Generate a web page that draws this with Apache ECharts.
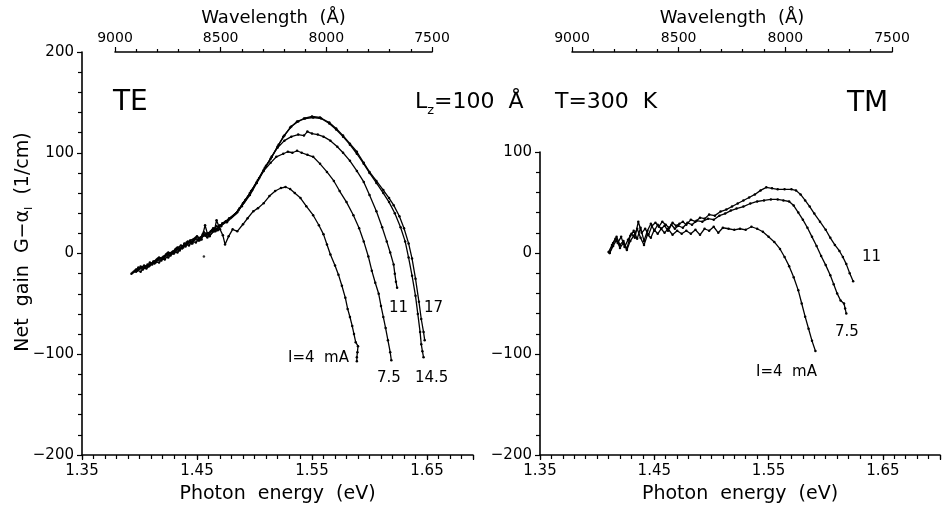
<!DOCTYPE html>
<html><head><meta charset="utf-8">
<script src="https://cdn.jsdelivr.net/npm/echarts@6/dist/echarts.min.js"></script>
<style>html,body{margin:0;padding:0;background:#fff}#c{width:943px;height:509px}</style>
</head><body><div id="c"></div>
<script>
// ---- tick labels ----
const energyTicks = [1.35, 1.45, 1.55, 1.65];
const wavelengthTicks = [9000, 8500, 8000, 7500];
const teGainTicks = [-200, -100, 0, 100, 200];
const tmGainTicks = [-200, -100, 0, 100];

// ---- TE data: [photon energy (eV), net gain (1/cm)] ----
const teI17 = [[1.393,-20],[1.397,-16],[1.401,-18],[1.405,-13],[1.409,-12],[1.413,-8],[1.417,-9],[1.421,-3],[1.425,-4],[1.429,2],[1.433,1],[1.437,7],[1.441,9],[1.445,12],[1.449,11],[1.453,16],[1.457,18],[1.461,17],[1.465,24],[1.469,26],[1.473,30],[1.477,33],[1.481,37],[1.485,41],[1.490,50],[1.496,60],[1.502,71],[1.508,83],[1.514,94],[1.520,106],[1.525,116],[1.531,125],[1.537,131],[1.543,134],[1.550,136],[1.557,135],[1.565,130],[1.571,124],[1.577,117],[1.583,109],[1.589,101],[1.595,90],[1.600,81],[1.606,72],[1.612,63],[1.617,55],[1.621,48],[1.626,37],[1.630,25],[1.634,10],[1.637,-5],[1.640,-25],[1.643,-48],[1.645,-65],[1.647,-78],[1.648,-86]];
const teI145 = [[1.394,-19],[1.398,-17],[1.402,-14],[1.406,-15],[1.410,-10],[1.414,-9],[1.418,-5],[1.422,-6],[1.426,0],[1.430,0],[1.434,5],[1.438,6],[1.442,12],[1.446,10],[1.450,17],[1.454,14],[1.457,28],[1.459,20],[1.462,22],[1.466,22],[1.470,28],[1.474,31],[1.478,35],[1.482,38],[1.486,43],[1.491,51],[1.497,62],[1.503,73],[1.509,85],[1.515,96],[1.521,108],[1.526,117],[1.532,126],[1.538,131],[1.544,134],[1.551,135],[1.558,134],[1.565,129],[1.571,123],[1.577,116],[1.583,108],[1.589,99],[1.595,89],[1.600,80],[1.606,70],[1.612,60],[1.617,51],[1.622,40],[1.627,26],[1.631,12],[1.634,-4],[1.637,-22],[1.640,-42],[1.642,-60],[1.644,-78],[1.645,-90],[1.646,-97],[1.647,-103]];
const teI11 = [[1.395,-18],[1.399,-14],[1.403,-16],[1.407,-11],[1.411,-11],[1.415,-6],[1.419,-7],[1.423,-1],[1.427,-2],[1.431,4],[1.435,3],[1.439,10],[1.443,8],[1.447,14],[1.451,13],[1.455,19],[1.459,16],[1.463,23],[1.467,27],[1.471,27],[1.475,32],[1.479,35],[1.483,39],[1.487,45],[1.492,53],[1.498,63],[1.504,75],[1.510,87],[1.515,96],[1.520,105],[1.526,112],[1.532,116],[1.538,118],[1.543,117],[1.546,121],[1.550,119],[1.555,118],[1.560,116],[1.566,112],[1.572,106],[1.577,100],[1.583,92],[1.589,82],[1.595,71],[1.600,58],[1.606,42],[1.611,26],[1.615,12],[1.618,1],[1.621,-11],[1.622,-20],[1.623,-28],[1.624,-34]];
const teI75 = [[1.396,-17],[1.400,-15],[1.404,-12],[1.408,-13],[1.412,-8],[1.416,-5],[1.420,-4],[1.424,0],[1.428,1],[1.432,5],[1.436,8],[1.440,7],[1.444,13],[1.448,15],[1.452,13],[1.456,21],[1.460,19],[1.464,25],[1.468,23],[1.472,30],[1.476,31],[1.480,36],[1.484,40],[1.489,47],[1.496,58],[1.502,70],[1.508,82],[1.514,90],[1.519,96],[1.525,99],[1.529,101],[1.533,100],[1.537,102],[1.541,100],[1.546,98],[1.551,96],[1.557,89],[1.563,81],[1.569,72],[1.574,62],[1.580,51],[1.586,38],[1.591,25],[1.595,12],[1.599,-3],[1.602,-17],[1.605,-29],[1.608,-40],[1.610,-52],[1.612,-63],[1.614,-74],[1.616,-86],[1.618,-98],[1.619,-106]];
const teI4 = [[1.397,-18],[1.401,-13],[1.405,-14],[1.409,-9],[1.413,-10],[1.417,-4],[1.421,-5],[1.425,1],[1.429,0],[1.433,6],[1.437,5],[1.441,11],[1.445,10],[1.449,16],[1.453,14],[1.457,19],[1.461,18],[1.465,22],[1.467,33],[1.470,24],[1.4725,18],[1.4744,9],[1.4775,17],[1.481,24],[1.485,22],[1.490,29],[1.494,35],[1.499,42],[1.503,45],[1.508,50],[1.513,57],[1.518,62],[1.523,65],[1.527,66],[1.531,64],[1.535,60],[1.540,55],[1.545,47],[1.551,38],[1.556,28],[1.560,19],[1.563,9],[1.566,-1],[1.570,-12],[1.573,-21],[1.576,-32],[1.579,-44],[1.581,-55],[1.583,-63],[1.585,-72],[1.5865,-80],[1.588,-88],[1.590,-92],[1.5895,-98],[1.589,-103],[1.589,-107]];
const teStray = [[1.456,-3]];

// ---- TM data ----
const tmI11 = [[1.410,1],[1.413,8],[1.416,14],[1.418,10],[1.421,16],[1.424,6],[1.427,13],[1.430,19],[1.433,15],[1.436,31],[1.439,20],[1.442,24],[1.445,18],[1.448,27],[1.451,30],[1.454,26],[1.457,31],[1.460,28],[1.463,25],[1.466,30],[1.469,27],[1.472,29],[1.475,31],[1.478,28],[1.482,33],[1.486,31],[1.490,35],[1.494,34],[1.498,38],[1.503,37],[1.508,41],[1.513,43],[1.518,46],[1.523,49],[1.528,52],[1.533,55],[1.538,58],[1.543,62],[1.548,65],[1.553,64],[1.558,63],[1.564,63],[1.570,63],[1.574,62],[1.578,58],[1.582,52],[1.586,46],[1.590,39],[1.595,31],[1.600,23],[1.604,15],[1.608,8],[1.612,2],[1.615,-4],[1.618,-11],[1.621,-20],[1.624,-28]];
const tmI75 = [[1.411,0],[1.414,10],[1.417,16],[1.420,8],[1.423,12],[1.426,4],[1.429,17],[1.432,22],[1.435,14],[1.438,25],[1.441,12],[1.444,22],[1.447,29],[1.450,22],[1.453,28],[1.456,24],[1.459,27],[1.462,22],[1.465,28],[1.468,24],[1.471,27],[1.475,25],[1.479,30],[1.483,28],[1.487,32],[1.492,31],[1.497,34],[1.502,33],[1.507,37],[1.512,39],[1.517,42],[1.522,44],[1.528,46],[1.534,49],[1.540,51],[1.546,52],[1.552,53],[1.558,53],[1.563,52],[1.568,51],[1.572,47],[1.576,40],[1.580,33],[1.584,25],[1.588,16],[1.592,7],[1.596,-3],[1.600,-12],[1.604,-22],[1.607,-31],[1.610,-40],[1.613,-47],[1.616,-50],[1.617,-55],[1.618,-60]];
const tmI4 = [[1.411,0],[1.414,7],[1.417,13],[1.420,5],[1.423,10],[1.426,3],[1.429,12],[1.432,17],[1.435,24],[1.438,15],[1.441,8],[1.444,18],[1.447,15],[1.450,23],[1.453,19],[1.456,24],[1.459,20],[1.462,24],[1.466,18],[1.470,22],[1.474,19],[1.478,22],[1.482,19],[1.486,23],[1.490,18],[1.494,24],[1.498,22],[1.502,26],[1.506,20],[1.510,25],[1.515,24],[1.520,23],[1.525,24],[1.530,23],[1.535,26],[1.540,24],[1.545,21],[1.550,16],[1.555,11],[1.560,4],[1.564,-4],[1.568,-13],[1.572,-24],[1.576,-37],[1.579,-50],[1.582,-63],[1.585,-75],[1.588,-87],[1.591,-97]];

const FONT = 'DejaVu Sans';
const inList = (list, v) => list.some(t => Math.abs(t - v) < 1e-6);
const axisLineStyle = { color: '#000', width: 1.6 };

function energyAxis(grid, max) {
  return {
    type: 'value', gridIndex: grid, position: 'bottom', min: 1.35, max: max, interval: 0.1,
    axisLine: { show: true, lineStyle: axisLineStyle, onZero: false },
    axisTick: { show: true, length: 5, lineStyle: { color: '#000', width: 1.2 } },
    axisLabel: { show: true, color: '#000', fontFamily: FONT, fontSize: 15, margin: 9,
      formatter: v => inList(energyTicks, v) ? v.toFixed(2) : '' },
    splitLine: { show: false },
    name: 'Photon  energy  (eV)', nameLocation: 'middle', nameGap: 30,
    nameTextStyle: { color: '#000', fontFamily: FONT, fontSize: 19 }
  };
}
function minorEnergyAxis(grid, max) {
  return {
    type: 'value', gridIndex: grid, position: 'bottom', min: 1.35, max: max, interval: 0.01,
    axisLine: { show: false, onZero: false },
    axisTick: { show: true, length: 4, lineStyle: { color: '#000', width: 1.2 } },
    axisLabel: { show: false }, splitLine: { show: false }
  };
}
function wlAxis(grid) {
  return {
    type: 'value', gridIndex: grid, position: 'top', min: 7500, max: 9000, interval: 500, inverse: true,
    axisLine: { show: true, lineStyle: axisLineStyle, onZero: false },
    axisTick: { show: true, length: 5, lineStyle: { color: '#000', width: 1.2 } },
    minorTick: { show: true, splitNumber: 5, length: 3, lineStyle: { color: '#000', width: 1.2 } },
    axisLabel: { show: true, color: '#000', fontFamily: FONT, fontSize: 14, margin: 7,
      formatter: v => inList(wavelengthTicks, v) ? String(v) : '' },
    splitLine: { show: false },
    name: 'Wavelength  (Å)', nameLocation: 'middle', nameGap: 25,
    nameTextStyle: { color: '#000', fontFamily: FONT, fontSize: 18 }
  };
}
function gainAxis(grid, min, max, ticks) {
  return {
    type: 'value', gridIndex: grid, min: min, max: max, interval: 100,
    axisLine: { show: true, lineStyle: axisLineStyle, onZero: false },
    axisTick: { show: true, length: 5, lineStyle: { color: '#000', width: 1.2 } },
    minorTick: { show: true, splitNumber: 5, length: 4, lineStyle: { color: '#000', width: 1.2 } },
    axisLabel: { show: true, color: '#000', fontFamily: FONT, fontSize: 15, margin: 8,
      formatter: v => inList(ticks, v) ? (v < 0 ? '\u2212' + Math.abs(v) : String(v)) : '' },
    splitLine: { show: false }
  };
}
function hiddenY(grid) {
  return { type: 'value', gridIndex: grid, min: 0, max: 1, show: false };
}
function curve(data, xi, yi) {
  return {
    type: 'line', data: data, xAxisIndex: xi, yAxisIndex: yi,
    symbol: 'circle', symbolSize: 2.5, showSymbol: true,
    itemStyle: { color: '#000' }, lineStyle: { color: '#000', width: 1.3 },
    silent: true, animation: false
  };
}

const chart = echarts.init(document.getElementById('c'), null, { renderer: 'canvas' });
chart.setOption({
  backgroundColor: '#fff',
  animation: false,
  grid: [
    { left: 82, top: 52, width: 391, height: 407 },
    { left: 540, top: 152, width: 404, height: 307 },
    { left: 115, top: 52, width: 317, height: 1 },
    { left: 572, top: 52, width: 320, height: 1 }
  ],
  xAxis: [
    energyAxis(0, 1.69), minorEnergyAxis(0, 1.69),
    energyAxis(1, 1.70), minorEnergyAxis(1, 1.70),
    wlAxis(2), wlAxis(3)
  ],
  yAxis: [
    gainAxis(0, -200, 200, teGainTicks),
    gainAxis(1, -200, 100, tmGainTicks),
    hiddenY(2), hiddenY(3)
  ],
  series: [
    curve(teI17, 0, 0), curve(teI145, 0, 0), curve(teI11, 0, 0), curve(teI75, 0, 0), curve(teI4, 0, 0),
    { type: 'scatter', data: teStray, xAxisIndex: 0, yAxisIndex: 0, symbolSize: 2.5, itemStyle: { color: '#000' }, silent: true },
    curve(tmI11, 2, 1), curve(tmI75, 2, 1), curve(tmI4, 2, 1)
  ],
  graphic: [
    { type: 'text', x: 23, y: 242, rotation: Math.PI / 2,
      style: { text: '{a|Net  gain  G\u2212\u03b1}{s|I}{a|  (1/cm)}', align: 'center', verticalAlign: 'middle',
        rich: { a: { fontFamily: FONT, fontSize: 19, fill: '#000', lineHeight: 24, verticalAlign: 'middle' },
                s: { fontFamily: FONT, fontSize: 11, fill: '#000', lineHeight: 24, verticalAlign: 'bottom' } } } },
    { type: 'text', x: 113, y: 103, style: { text: 'TE', font: '28px "DejaVu Sans"', fill: '#000', verticalAlign: 'middle' } },
    { type: 'text', x: 847, y: 104, style: { text: 'TM', font: '28px "DejaVu Sans"', fill: '#000', verticalAlign: 'middle' } },
    { type: 'text', x: 415, y: 102,
      style: { text: '{a|L}{s|z}{a|=100  Å}', verticalAlign: 'middle',
        rich: { a: { fontFamily: FONT, fontSize: 22, fill: '#000', lineHeight: 28, verticalAlign: 'middle' },
                s: { fontFamily: FONT, fontSize: 13, fill: '#000', lineHeight: 30, verticalAlign: 'bottom' } } } },
    { type: 'text', x: 555, y: 102, style: { text: 'T=300  K', font: '22px "DejaVu Sans"', fill: '#000', verticalAlign: 'middle' } },
    { type: 'text', x: 288, y: 358, style: { text: 'I=4  mA', font: '15px "DejaVu Sans"', fill: '#000', verticalAlign: 'middle' } },
    { type: 'text', x: 377, y: 378, style: { text: '7.5', font: '15px "DejaVu Sans"', fill: '#000', verticalAlign: 'middle' } },
    { type: 'text', x: 415, y: 378, style: { text: '14.5', font: '15px "DejaVu Sans"', fill: '#000', verticalAlign: 'middle' } },
    { type: 'text', x: 389, y: 308, style: { text: '11', font: '15px "DejaVu Sans"', fill: '#000', verticalAlign: 'middle' } },
    { type: 'text', x: 424, y: 308, style: { text: '17', font: '15px "DejaVu Sans"', fill: '#000', verticalAlign: 'middle' } },
    { type: 'text', x: 756, y: 372, style: { text: 'I=4  mA', font: '15px "DejaVu Sans"', fill: '#000', verticalAlign: 'middle' } },
    { type: 'text', x: 835, y: 332, style: { text: '7.5', font: '15px "DejaVu Sans"', fill: '#000', verticalAlign: 'middle' } },
    { type: 'text', x: 862, y: 257, style: { text: '11', font: '15px "DejaVu Sans"', fill: '#000', verticalAlign: 'middle' } }
  ]
});
</script></body></html>
